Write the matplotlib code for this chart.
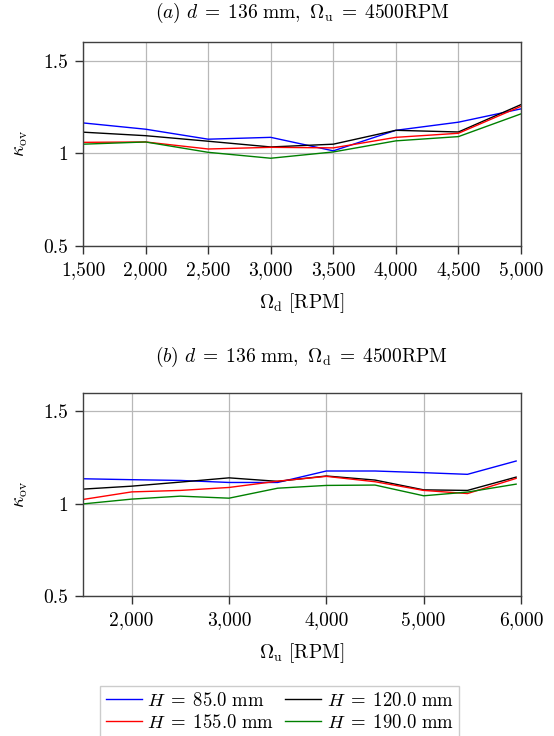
import matplotlib
matplotlib.use("Agg")
import matplotlib.pyplot as plt
from matplotlib.ticker import FuncFormatter, FixedLocator

plt.rcParams['font.family'] = 'serif'
plt.rcParams['font.serif'] = ['cmr10']
plt.rcParams['mathtext.fontset'] = 'cm'
plt.rcParams['axes.formatter.use_mathtext'] = True

# Panel (a): Omega_d sweep
omega_d = [1500, 2000, 2500, 3000, 3500, 4000, 4500, 5000]
a_h85 = [1.164, 1.130, 1.076, 1.086, 1.013, 1.124, 1.168, 1.240]
a_h120 = [1.114, 1.095, 1.065, 1.034, 1.049, 1.124, 1.115, 1.263]
a_h155 = [1.059, 1.061, 1.023, 1.032, 1.029, 1.086, 1.108, 1.254]
a_h190 = [1.049, 1.061, 1.005, 0.973, 1.007, 1.067, 1.090, 1.213]

# Panel (b): Omega_u sweep
omega_u = [1500, 2000, 2500, 3000, 3500, 4000, 4500, 5000, 5450, 5950]
b_h85 = [1.134, 1.129, 1.125, 1.114, 1.114, 1.176, 1.176, 1.167, 1.158, 1.230]
b_h120 = [1.078, 1.094, 1.116, 1.139, 1.120, 1.149, 1.127, 1.074, 1.071, 1.143]
b_h155 = [1.022, 1.063, 1.071, 1.087, 1.121, 1.147, 1.118, 1.071, 1.054, 1.136]
b_h190 = [0.998, 1.024, 1.040, 1.029, 1.083, 1.098, 1.100, 1.042, 1.062, 1.105]

labels = [r'$H\;=\;85.0\ \mathrm{mm}$', r'$H\;=\;120.0\ \mathrm{mm}$',
          r'$H\;=\;155.0\ \mathrm{mm}$', r'$H\;=\;190.0\ \mathrm{mm}$']
colors = ['blue', 'black', 'red', 'green']

yticks = [0.5, 1.0, 1.5]
xticks_a = [1500, 2000, 2500, 3000, 3500, 4000, 4500, 5000]
xticks_b = [2000, 3000, 4000, 5000, 6000]

fig = plt.figure(figsize=(5.54, 7.36), dpi=100)
W, H = 554, 736

def make_ax(top_px, bottom_px):
    return fig.add_axes([83 / W, 1 - bottom_px / H, 438 / W, (bottom_px - top_px) / H])

ax_a = make_ax(42.3, 245.7)
ax_b = make_ax(392.6, 596)

def yfmt(v, pos):
    return f'{v:g}'

def xfmt(v, pos):
    return f'{v:,.0f}'

fs = 14
for ax, xs, series, xlim, xticks, xlabel, title, ty in [
    (ax_a, omega_d, [a_h85, a_h120, a_h155, a_h190], (1500, 5000), xticks_a,
     r'$\Omega_{\mathrm{d}}\ [\mathrm{RPM}]$',
     r'$(a)\ d\;=\;136\ \mathrm{mm},\ \Omega_{\mathrm{u}}\;=\;4500\mathrm{RPM}$', 13),
    (ax_b, omega_u, [b_h85, b_h120, b_h155, b_h190], (1500, 6000), xticks_b,
     r'$\Omega_{\mathrm{u}}\ [\mathrm{RPM}]$',
     r'$(b)\ d\;=\;136\ \mathrm{mm},\ \Omega_{\mathrm{d}}\;=\;4500\mathrm{RPM}$', 357),
]:
    lines = []
    for ys, c, lab in zip(series, colors, labels):
        ln, = ax.plot(xs, ys, color=c, lw=1.0, label=lab)
        lines.append(ln)
    ax.set_xlim(*xlim)
    ax.set_ylim(0.5, 1.6)
    ax.xaxis.set_major_locator(FixedLocator(xticks))
    ax.yaxis.set_major_locator(FixedLocator(yticks))
    ax.xaxis.set_major_formatter(FuncFormatter(xfmt))
    ax.yaxis.set_major_formatter(FuncFormatter(yfmt))
    ax.grid(True, color='#b8b8b8', lw=0.9)
    ax.set_axisbelow(True)
    ax.tick_params(direction='out', length=6, width=1.0, color='#333333',
                   labelsize=fs, pad=5)
    for sp in ax.spines.values():
        sp.set_color('#404040')
        sp.set_linewidth(1.0)
    ax.set_xlabel(xlabel, fontsize=fs, labelpad=9)
    ax.set_ylabel(r'$\kappa_{\mathrm{ov}}$', fontsize=fs, labelpad=9)
    fig.text(0.5 * (83 + 521) / W, 1 - ty / H, title, fontsize=14,
             ha='center', va='center')

# legend filled row-wise: H85, H120 / H155, H190
order = [0, 2, 1, 3]
leg = fig.legend([lines[i] for i in order], [labels[i] for i in order],
                 loc='upper center', bbox_to_anchor=(0.505, 1 - 677 / H),
                 ncol=2, fontsize=13.5, frameon=True, fancybox=False,
                 edgecolor='#cccccc', framealpha=1.0, handlelength=1.9,
                 handletextpad=0.3, columnspacing=0.6, borderpad=0.3,
                 labelspacing=0.2)
leg.get_frame().set_linewidth(1.0)

fig.savefig('out.png', dpi=100)
